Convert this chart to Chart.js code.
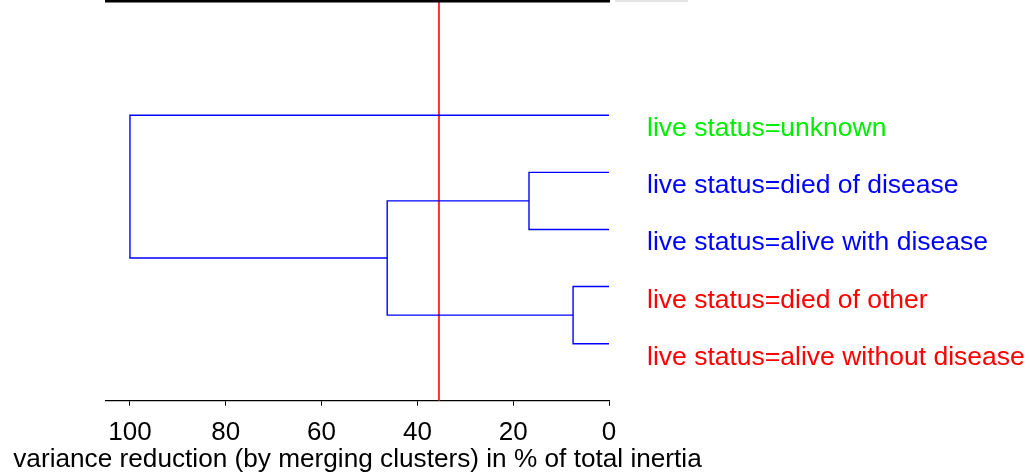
<!DOCTYPE html>
<html>
<head>
<meta charset="utf-8">
<script src="https://cdn.jsdelivr.net/npm/chart.js@4.4.1/dist/chart.umd.min.js"></script>
<style>
  html, body { margin: 0; padding: 0; background: #ffffff; }
  canvas { display: block; }
</style>
</head>
<body>
<canvas id="dendro" width="1030" height="476"></canvas>
<script>
// Leaves, top to bottom
const leafLabels = [
  "live status=unknown",
  "live status=died of disease",
  "live status=alive with disease",
  "live status=died of other",
  "live status=alive without disease"
];
const leafColors = ["#00ee00", "#0000ff", "#0000ff", "#ff0000", "#ff0000"];

// hclust-style merge table: negative = leaf (1-based), positive = earlier merge
const merges = [[-2, -3], [-4, -5], [1, 2], [-1, 3]];
const mergeHeights = [16.7, 7.5, 46.3, 100];

const cutHeight = 35.5;
const xTicks = [0, 20, 40, 60, 80, 100];
const xMax = 105;
const xTitle = "variance reduction (by merging clusters) in % of total inertia";

const FONT = "'Liberation Sans', Arial, sans-serif";

// Build the U-shaped links from the merge table
const nodePos = [];
function childPos(ref) {
  if (ref < 0) return { x: 0, y: -ref };
  return nodePos[ref - 1];
}
const linkSets = merges.map((m, i) => {
  const a = childPos(m[0]);
  const b = childPos(m[1]);
  const h = mergeHeights[i];
  nodePos.push({ x: h, y: (a.y + b.y) / 2 });
  return {
    data: [{ x: a.x, y: a.y }, { x: h, y: a.y }, { x: h, y: b.y }, { x: b.x, y: b.y }],
    showLine: true,
    borderColor: "#0000ff",
    borderWidth: 1.4,
    pointRadius: 0,
    fill: false
  };
});

const cutLine = {
  data: [{ x: cutHeight, y: -1 }, { x: cutHeight, y: 6 }],
  showLine: true,
  borderColor: "#ff3030",
  borderWidth: 2,
  pointRadius: 0
};

// Frame line across the top, leaf labels and the axis title
// (the title is wider than the plot, so Chart.js would squeeze it)
const decorations = {
  id: "decorations",
  afterDraw(chart) {
    const { ctx, chartArea, scales } = chart;
    ctx.save();
    ctx.strokeStyle = "#000000";
    ctx.lineWidth = 3;
    ctx.beginPath();
    ctx.moveTo(chartArea.left - 1, chartArea.top);
    ctx.lineTo(chartArea.right + 1, chartArea.top);
    ctx.stroke();
    ctx.strokeStyle = "#e4e4e4";
    ctx.lineWidth = 2;
    ctx.beginPath();
    ctx.moveTo(chartArea.right + 6, chartArea.top);
    ctx.lineTo(chartArea.right + 79, chartArea.top);
    ctx.stroke();

    ctx.font = "26.5px " + FONT;
    ctx.textAlign = "left";
    ctx.textBaseline = "alphabetic";
    const x0 = scales.x.getPixelForValue(0) + 38;
    leafLabels.forEach((label, i) => {
      ctx.fillStyle = leafColors[i];
      ctx.fillText(label, x0, scales.y.getPixelForValue(i + 1) + 21);
    });

    ctx.font = "26.2px " + FONT;
    ctx.fillStyle = "#000000";
    ctx.textAlign = "center";
    ctx.fillText(xTitle, (chartArea.left + chartArea.right) / 2, chartArea.bottom + 66);
    ctx.restore();
  }
};

new Chart(document.getElementById("dendro"), {
  type: "scatter",
  data: { datasets: [...linkSets, cutLine] },
  plugins: [decorations],
  options: {
    responsive: false,
    animation: false,
    devicePixelRatio: 1,
    layout: { padding: { left: 106, right: 421, top: 1, bottom: 17 } },
    plugins: {
      legend: { display: false },
      tooltip: { enabled: false }
    },
    scales: {
      x: {
        type: "linear",
        min: 0,
        max: xMax,
        reverse: true,
        afterBuildTicks: (axis) => {
          axis.ticks = xTicks.map((v) => ({ value: v }));
        },
        grid: {
          drawOnChartArea: false,
          drawTicks: true,
          tickLength: 5,
          color: "#000000",
          lineWidth: 1
        },
        border: { display: true, color: "#000000", width: 1.3 },
        ticks: {
          color: "#000000",
          padding: 11,
          maxRotation: 0,
          font: { family: FONT, size: 26 }
        }
      },
      y: {
        display: false,
        min: -1,
        max: 6,
        reverse: true
      }
    }
  }
});
</script>
</body>
</html>
